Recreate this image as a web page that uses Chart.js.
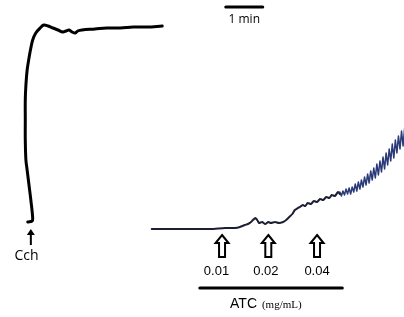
<!DOCTYPE html>
<html>
<head>
<meta charset="utf-8">
<script src="https://cdn.jsdelivr.net/npm/chart.js@4"></script>
<style>
  body { margin: 0; background: #fff; }
  #wrap { width: 404px; height: 317px; }
</style>
</head>
<body>
<div id="wrap"><canvas id="trace" width="404" height="317"></canvas></div>
<script>
// time in seconds, tension in arbitrary units
const cchTime = [45, 52, 53, 50, 47, 44, 42, 41, 41, 41, 42, 44, 47, 50, 53, 58, 65, 71, 78, 86, 94, 102, 107, 112, 117, 122, 126, 133, 154, 173, 195, 216, 238, 263];
const cchTension = [95, 96, 99, 117, 132, 147, 157, 177, 197, 217, 232, 247, 259, 269, 277, 284, 289, 292, 291, 289, 287, 285, 286, 287, 285, 284, 286, 287, 288, 289, 289, 290, 290, 291];

const atcTime = [246, 276, 308, 341, 365, 381, 389, 397, 402, 407, 410, 414, 417, 420, 425, 430, 435, 439, 446, 452, 459, 464, 469, 474, 478, 483, 486, 491, 495, 499, 504, 509, 514, 519, 524, 529, 534, 538, 543, 548, 551];
const atcTension = [88, 88, 88, 88, 89, 89, 90, 92, 93, 95, 97, 99, 97, 94, 95, 93, 95, 94, 95, 94, 95, 97, 100, 103, 107, 109, 110, 112, 111, 114, 113, 116, 115, 118, 117, 120, 119, 122, 121, 125, 123];

// oscillating part at the end of the ATC trace
const oscTime = [551, 553.5, 556, 558.5, 561, 563.5, 566, 568.5, 571, 573.5, 576, 578.5, 581, 583.5, 586, 588.5, 591, 593.5, 596, 598.5, 601, 603.5, 606, 608.5, 611, 613.5, 616, 618.5, 621, 623.5, 626, 628.5, 631, 633.5, 636, 638.5, 641, 643.5, 646, 648.5, 651, 653.5, 656];
const oscTension = [125, 121, 126, 122, 128, 123, 129, 123, 130, 125, 133, 126, 135, 128, 137, 130, 140, 132, 143, 134, 146, 137, 149, 139, 153, 142, 156, 145, 160, 148, 164, 152, 168, 156, 173, 159, 177, 164, 181, 168, 186, 171, 189];

// ATC doses
const doseTime = [360, 435, 514];
const doseLabelTime = [351, 431, 514];
const doseLabels = ['0.01', '0.02', '0.04'];
const atcBarTime = [324, 555];
const scaleBarTime = [366, 426]; // 1 min

function pts(xs, ys) {
    return xs.map((x, i) => ({ x: x, y: ys[i] }));
}

// arrows and texts
const notes = {
    id: 'notes',
    afterDatasetsDraw(chart) {
        const ctx = chart.ctx;
        const sx = chart.scales.x, sy = chart.scales.y;
        ctx.save();
        ctx.fillStyle = '#000';
        ctx.strokeStyle = '#000';

        // hollow dose arrows
        doseTime.forEach(t => {
            const cx = sx.getPixelForValue(t);
            const top = sy.getPixelForValue(82);
            const bot = sy.getPixelForValue(60);
            ctx.beginPath();
            ctx.moveTo(cx, top);
            ctx.lineTo(cx + 6.5, top + 8);
            ctx.lineTo(cx + 3, top + 8);
            ctx.lineTo(cx + 3, bot);
            ctx.lineTo(cx - 3, bot);
            ctx.lineTo(cx - 3, top + 8);
            ctx.lineTo(cx - 6.5, top + 8);
            ctx.closePath();
            ctx.lineWidth = 2;
            ctx.stroke();
        });

        ctx.font = '13px "Liberation Sans", Arial, sans-serif';
        ctx.textAlign = 'center';
        ctx.textBaseline = 'alphabetic';
        doseLabels.forEach((lab, i) => {
            ctx.fillText(lab, sx.getPixelForValue(doseLabelTime[i]), sy.getPixelForValue(42));
        });

        // ATC (mg/mL)
        ctx.textAlign = 'left';
        ctx.font = '14px "Liberation Sans", Arial, sans-serif';
        const ax = sx.getPixelForValue(373);
        const ay = sy.getPixelForValue(9);
        ctx.fillText('ATC', ax, ay);
        const w = ctx.measureText('ATC ').width;
        ctx.font = '11px "Liberation Serif", "Times New Roman", serif';
        ctx.fillText('(mg/mL)', ax + w + 1, ay);

        // 1 min
        ctx.textAlign = 'center';
        ctx.font = '12px "Open Sans", "Liberation Sans", sans-serif';
        ctx.fillText('1 min', sx.getPixelForValue(396), sy.getPixelForValue(294));

        // Cch arrow
        const kx = sx.getPixelForValue(50);
        const kt = sy.getPixelForValue(88);
        const kb = sy.getPixelForValue(72);
        ctx.lineWidth = 2;
        ctx.beginPath();
        ctx.moveTo(kx, kt + 4);
        ctx.lineTo(kx, kb);
        ctx.stroke();
        ctx.beginPath();
        ctx.moveTo(kx, kt);
        ctx.lineTo(kx + 4, kt + 6);
        ctx.lineTo(kx - 4, kt + 6);
        ctx.closePath();
        ctx.fill();
        ctx.font = '14px "Open Sans", "Liberation Sans", sans-serif';
        ctx.fillText('Cch', sx.getPixelForValue(43), sy.getPixelForValue(57));
        ctx.restore();
    }
};

const line = (data, color, width, smooth) => ({
    data: data,
    showLine: true,
    borderColor: color,
    borderWidth: width,
    borderJoinStyle: 'round',
    borderCapStyle: 'round',
    pointRadius: 0,
    tension: smooth || 0,
    fill: false
});

new Chart(document.getElementById('trace'), {
    type: 'scatter',
    data: {
        datasets: [
            line(pts(cchTime, cchTension), '#000', 3, 0.35),
            line(pts(atcTime, atcTension), '#1c1f33', 2, 0.2),
            line(pts(oscTime, oscTension), '#2b3a78', 1.5),
            line(pts(atcBarTime, [29, 29]), '#000', 3),
            line(pts(scaleBarTime, [310, 310]), '#000', 3)
        ]
    },
    options: {
        responsive: false,
        animation: false,
        layout: { padding: 0 },
        plugins: { legend: { display: false }, tooltip: { enabled: false } },
        scales: {
            x: { type: 'linear', min: 0, max: 655, display: false },
            y: { type: 'linear', min: 0, max: 317, display: false }
        }
    },
    plugins: [notes]
});
</script>
</body>
</html>
